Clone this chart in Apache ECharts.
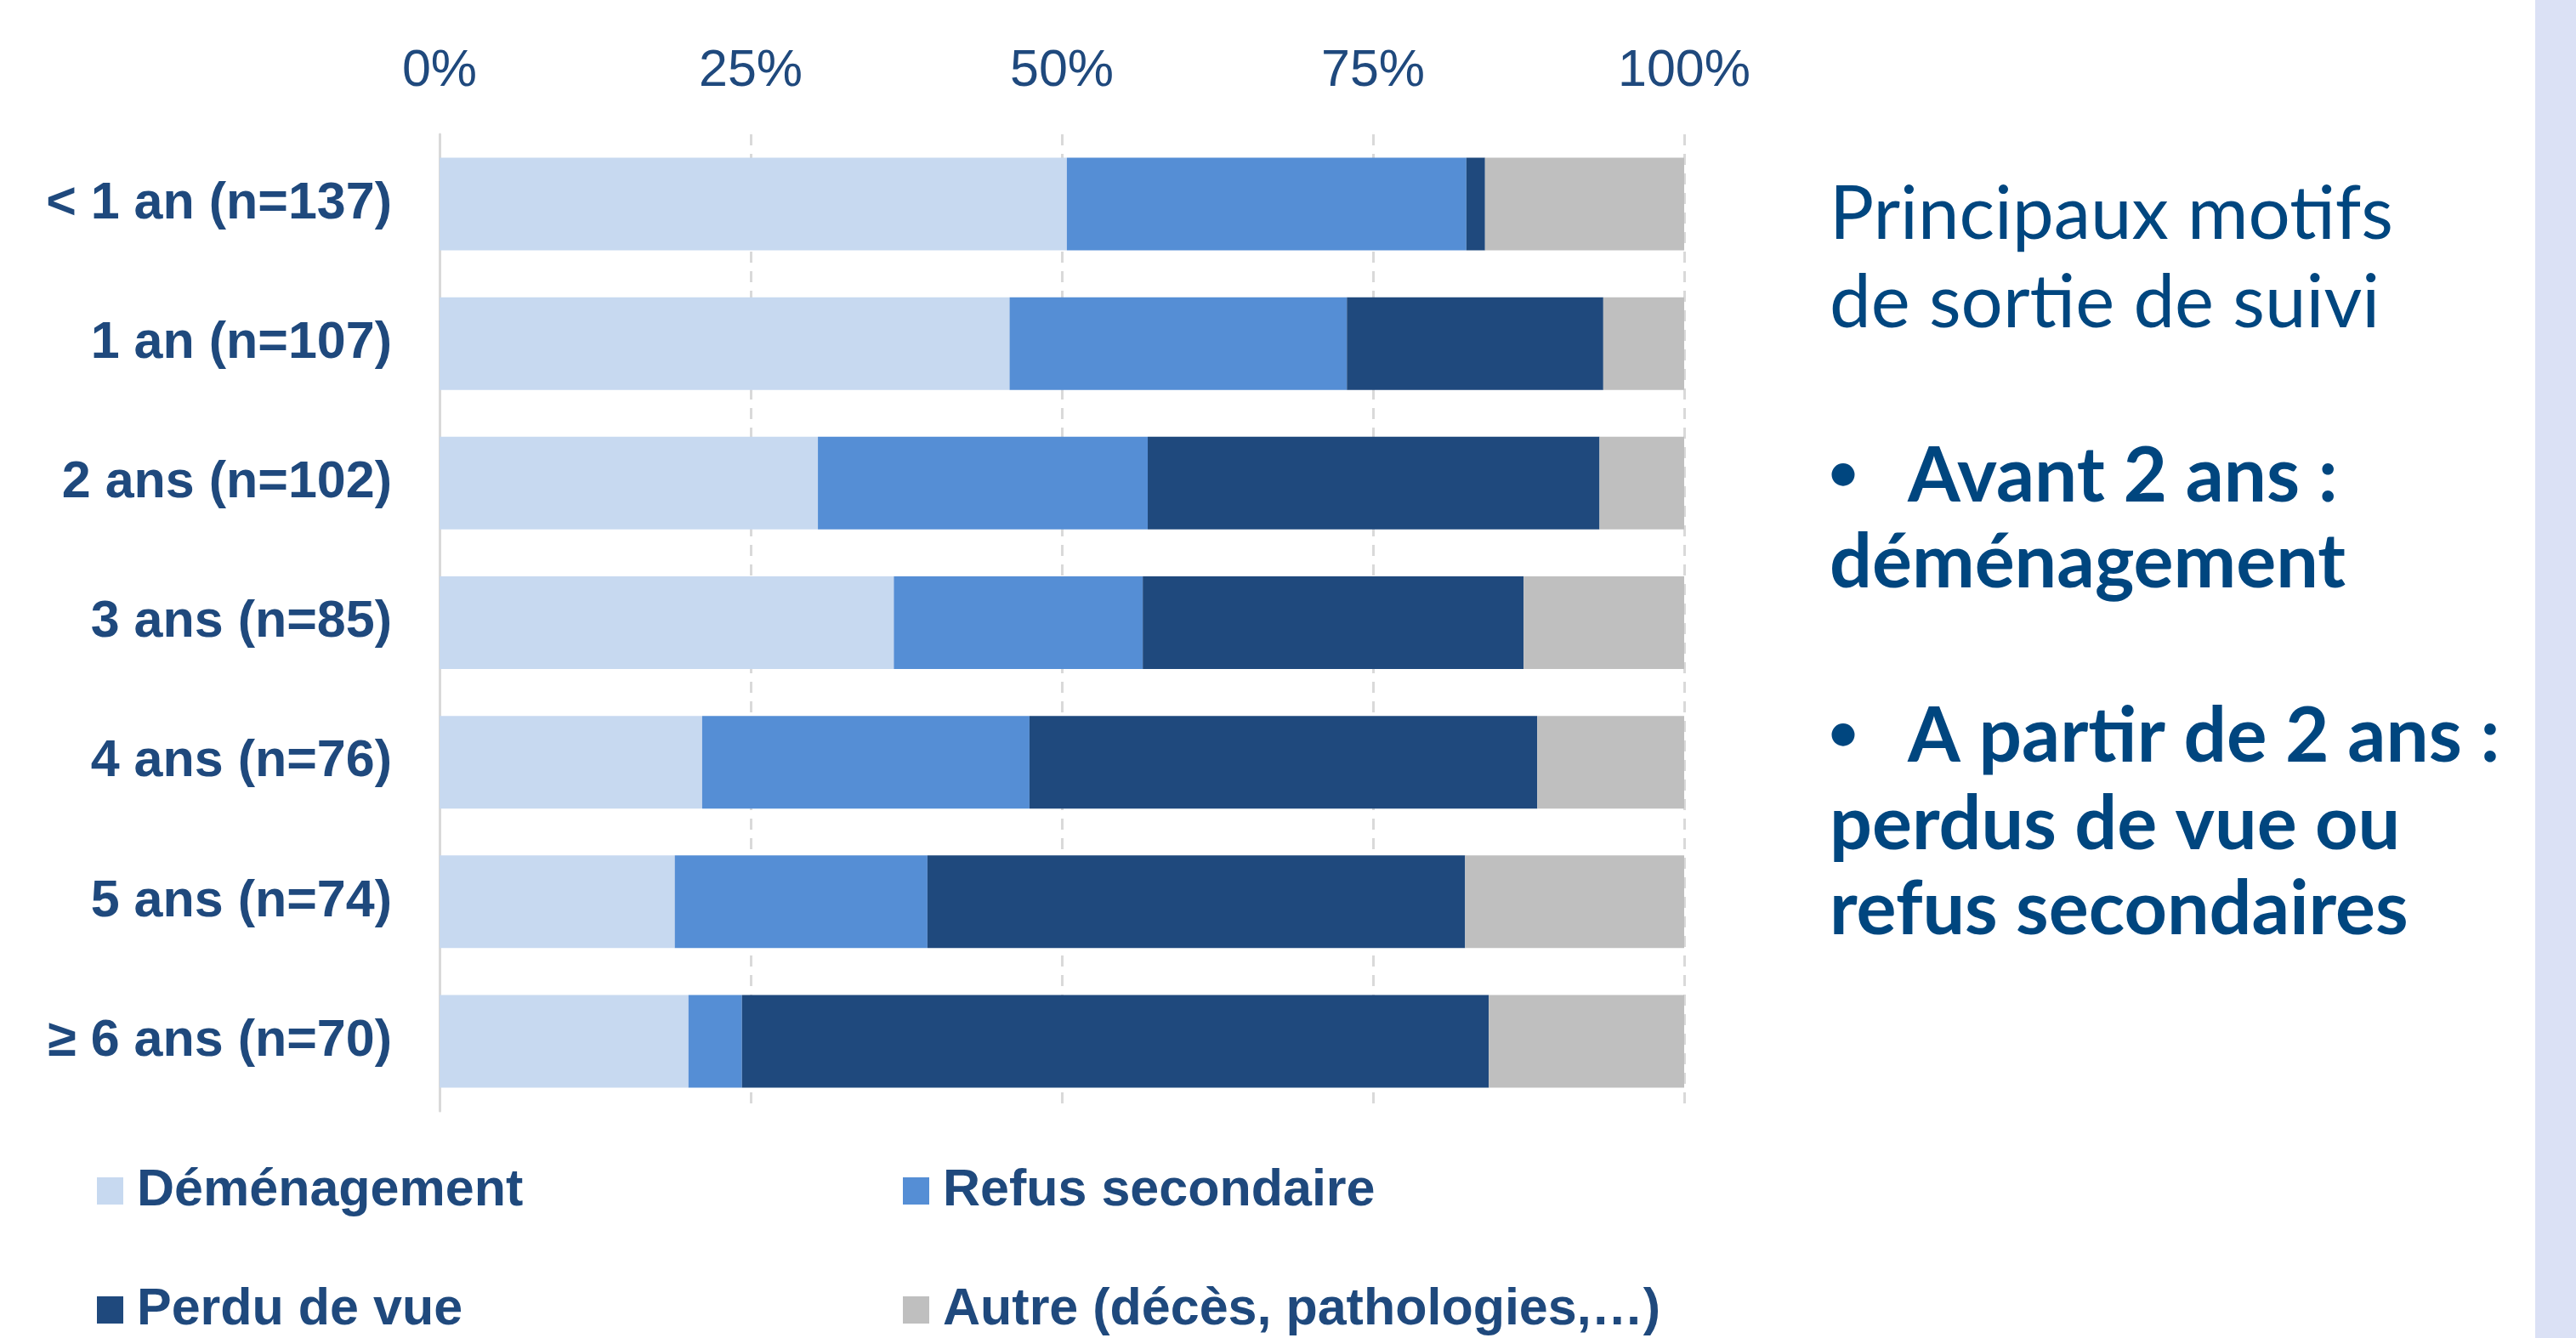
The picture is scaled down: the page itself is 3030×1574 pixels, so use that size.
<!DOCTYPE html>
<html>
<head>
<meta charset="utf-8">
<script src="https://cdn.jsdelivr.net/npm/echarts@6/dist/echarts.min.js"></script>
<style>
  html, body { margin: 0; padding: 0; background: #ffffff; }
  #chart { width: 3030px; height: 1574px; }
</style>
</head>
<body>
<div id="chart"></div>
<script>
// ---- Data (percentages) ----
var categories = ['< 1 an (n=137)', '1 an (n=107)', '2 ans (n=102)', '3 ans (n=85)', '4 ans (n=76)', '5 ans (n=74)', '\u2265 6 ans (n=70)'];
var seriesNames = ['Déménagement', 'Refus secondaire', 'Perdu de vue', 'Autre (décès, pathologies,…)'];
var demenagement = [50.4, 45.8, 30.4, 36.5, 21.1, 18.9, 20.0];
var refusSecondaire = [32.1, 27.1, 26.5, 20.0, 26.3, 20.3, 4.3];
var perduDeVue = [1.5, 20.6, 36.3, 30.6, 40.8, 43.2, 60.0];
var autre = [16.0, 6.5, 6.8, 12.9, 11.8, 17.6, 15.7];
var tickValues = [0, 25, 50, 75, 100];
var sideTitle = ['Principaux motifs', 'de sortie de suivi'];
var sideBullets = [
  { head: 'Avant 2 ans :', rest: ['déménagement'] },
  { head: 'A partir de 2 ans :', rest: ['perdus de vue ou', 'refus secondaires'] }
];

var colors = ['#C7D9F0', '#558ED5', '#1F497D', '#BFBFBF'];
var navy = '#1F497D';
var textBlue = '#00467F';

var chart = echarts.init(document.getElementById('chart'), null, { renderer: 'canvas' });

var seriesData = [demenagement, refusSecondaire, perduDeVue, autre];
var series = seriesNames.map(function (name, i) {
  return {
    name: name,
    type: 'bar',
    stack: 'total',
    barWidth: 109,
    itemStyle: { color: colors[i] },
    emphasis: { disabled: true },
    data: seriesData[i]
  };
});

// side text graphics
var FONT = 'Lato';
var OFF = 26;
var graphics = [
  { type: 'rect', shape: { x: 2982, y: 0, width: 48, height: 1574 }, style: { fill: '#DBE1F5' }, silent: true }
];
var titleBaselines = [279, 383];
sideTitle.forEach(function (t, i) {
  graphics.push({
    type: 'text', silent: true,
    style: { text: t, x: 2152, y: titleBaselines[i] - OFF, verticalAlign: 'middle', align: 'left',
      font: 'normal 87px ' + FONT, fill: textBlue }
  });
});
var bulletBaselines = [[587, 689], [893, 997, 1097]];
sideBullets.forEach(function (b, i) {
  var bl = bulletBaselines[i];
  graphics.push({
    type: 'text', silent: true,
    style: { text: '\u2022', x: 2150, y: bl[0] - 30, verticalAlign: 'middle', align: 'left',
      font: 'bold 62px ' + FONT, fill: textBlue }
  });
  graphics.push({
    type: 'text', silent: true,
    style: { text: b.head, x: 2244, y: bl[0] - OFF, verticalAlign: 'middle', align: 'left',
      font: 'bold 89px ' + FONT, fill: textBlue }
  });
  b.rest.forEach(function (r, j) {
    graphics.push({
      type: 'text', silent: true,
      style: { text: r, x: 2152, y: bl[j + 1] - OFF, verticalAlign: 'middle', align: 'left',
        font: 'bold 88px ' + FONT, fill: textBlue }
    });
  });
});

var legendText = { fontFamily: 'Liberation Sans', fontWeight: 'bold', fontSize: 61, color: navy, lineHeight: 62, padding: [0, 0, 0, 11] };

var option = {
  backgroundColor: '#ffffff',
  animation: false,
  grid: { left: 517, top: 158, width: 1464, height: 1149, containLabel: false },
  xAxis: {
    type: 'value',
    position: 'top',
    min: tickValues[0],
    max: tickValues[tickValues.length - 1],
    interval: tickValues[1] - tickValues[0],
    axisLine: { show: false },
    axisTick: { show: false },
    axisLabel: {
      formatter: '{value}%',
      margin: 43,
      fontFamily: 'Liberation Sans',
      fontSize: 61,
      color: navy
    },
    splitLine: { show: true, lineStyle: { color: '#D9D9D9', width: 3, type: [13, 10] } }
  },
  yAxis: {
    type: 'category',
    inverse: true,
    data: categories,
    axisLine: { show: true, lineStyle: { color: '#D9D9D9', width: 3 } },
    axisTick: { show: false },
    axisLabel: {
      margin: 56,
      fontFamily: 'Liberation Sans',
      fontWeight: 'bold',
      fontSize: 61,
      color: navy
    },
    splitLine: { show: false }
  },
  legend: [
    {
      data: [seriesNames[0], seriesNames[2]],
      orient: 'vertical', left: 114, top: 1370, padding: 0,
      itemWidth: 31, itemHeight: 32, itemGap: 78, icon: 'rect',
      selectedMode: false, textStyle: legendText
    },
    {
      data: [seriesNames[1], seriesNames[3]],
      orient: 'vertical', left: 1062, top: 1370, padding: 0,
      itemWidth: 31, itemHeight: 32, itemGap: 78, icon: 'rect',
      selectedMode: false, textStyle: legendText
    }
  ],
  graphic: graphics,
  series: series
};

chart.setOption(option);
</script>
</body>
</html>
